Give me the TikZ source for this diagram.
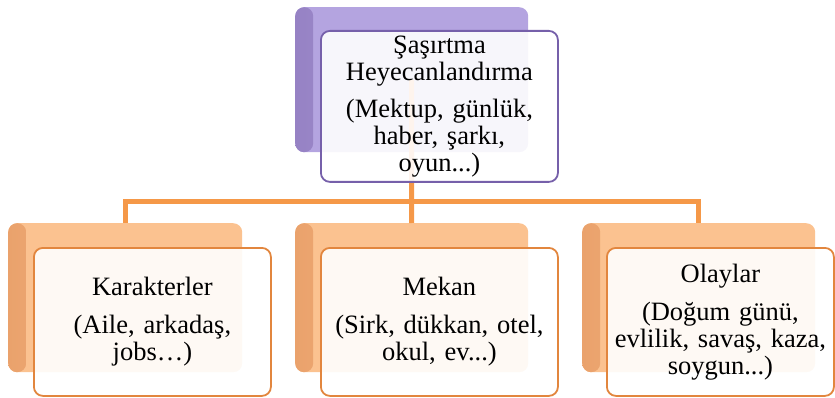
\documentclass[tikz,border=0pt]{standalone}
\usepackage{fontspec}
\setmainfont{Liberation Serif}
\definecolor{pback}{RGB}{180,164,224}
\definecolor{pbackd}{RGB}{150,130,196}
\definecolor{pline}{RGB}{118,96,170}
\definecolor{oback}{RGB}{251,194,144}
\definecolor{obackd}{RGB}{234,162,108}
\definecolor{oline}{RGB}{226,134,62}
\definecolor{conn}{RGB}{245,152,72}
\tikzset{
  backbox/.style={rounded corners=9pt, inner sep=0pt, anchor=north west},
  pbackbox/.style={backbox, fill=pback, path picture={
      \shade[left color=pbackd, right color=pback] (path picture bounding box.north west) rectangle ([xshift=18pt]path picture bounding box.south west);}},
  obackbox/.style={backbox, fill=oback, path picture={
      \shade[left color=obackd, right color=oback] (path picture bounding box.north west) rectangle ([xshift=18pt]path picture bounding box.south west);}},
  frontbox/.style={rounded corners=9pt, draw, line width=1.8pt, fill=white, fill opacity=0.9, text opacity=1,
    align=center, inner sep=0pt, anchor=north west,
    font=\fontsize{26.5}{27}\selectfont},
  pfront/.style={frontbox, draw=pline},
  ofront/.style={frontbox, draw=oline},
  connector/.style={draw=conn, line width=5pt}
}
\begin{document}
\begin{tikzpicture}[x=1pt,y=-1pt]
\useasboundingbox (0,0) rectangle (835,398);
% back boxes
\node[pbackbox, minimum width=233pt, minimum height=145pt] (topback) at (295,7) {};
\node[obackbox, minimum width=234pt, minimum height=149pt] (lback) at (8,223) {};
\node[obackbox, minimum width=233pt, minimum height=149pt] (mback) at (295,223) {};
\node[obackbox, minimum width=233pt, minimum height=149pt] (rback) at (582,223) {};
% connectors
\coordinate (bus) at (411.5,201.5);
\draw[connector] (topback.center) -- (bus);
\draw[connector] (lback.north) |- (bus) -| (rback.north);
\draw[connector] (bus) -- (mback.north);
% front boxes
\node[pfront, minimum width=237pt, minimum height=151pt, text width=237pt] (top) at (320,30)
  {Şaşırtma\\Heyecanlandırma\\[10pt](Mektup, günlük,\\haber, şarkı,\\oyun...)};
\node[ofront, minimum width=237pt, minimum height=148pt, text width=237pt] (kar) at (33,247)
  {Karakterler\\[11pt](Aile, arkadaş,\\jobs…)};
\node[ofront, minimum width=237pt, minimum height=148pt, text width=237pt] (mek) at (320,247)
  {Mekan\\[11pt](Sirk, dükkan, otel,\\okul, ev...)};
\node[ofront, minimum width=227pt, minimum height=148pt, text width=227pt] (ola) at (606,247)
  {Olaylar\\[11pt](Doğum günü,\\evlilik, savaş, kaza,\\soygun...)};
\end{tikzpicture}
\end{document}
